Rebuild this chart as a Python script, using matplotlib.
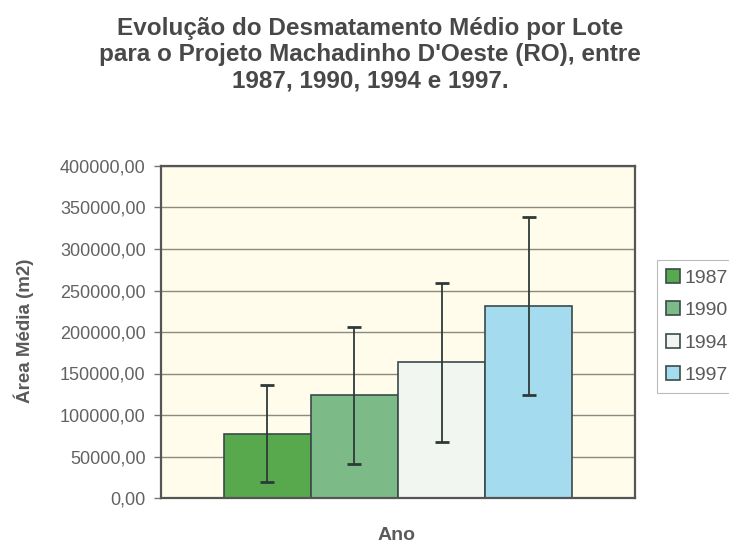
import matplotlib.pyplot as plt
import numpy as np

plt.rcParams["font.family"] = ["Liberation Sans", "DejaVu Sans"]

# data
anos = ["1987", "1990", "1994", "1997"]
area_media = [77500, 124000, 163500, 231000]
desvio = [58500, 82500, 95500, 107500]
cores = ["#58a84e", "#7cba88", "#f1f6f0", "#a4dbef"]
y_ticks = [0, 50000, 100000, 150000, 200000, 250000, 300000, 350000, 400000]

W, H = 729, 545
fig = plt.figure(figsize=(W / 100, H / 100), dpi=100)
fig.patch.set_facecolor("white")

# plot area in pixels: left 161, right 635, top 166, bottom 498
ax = fig.add_axes([161 / W, 1 - 498 / H, (635 - 161) / W, (498 - 166) / H])
ax.set_facecolor("#fffcec")

largura = 0.184
offsets = (np.arange(len(anos)) - 1.5) * largura
for i, ano in enumerate(anos):
    ax.bar(offsets[i], area_media[i], width=largura, color=cores[i],
           edgecolor="#3a4a4a", linewidth=1.2, label=ano, zorder=2)
    ax.errorbar(offsets[i], area_media[i], yerr=desvio[i], fmt="none",
                ecolor="#2e3a38", elinewidth=1.3, capsize=5, capthick=2,
                zorder=3)

ax.set_xlim(-0.5, 0.5)
ax.set_ylim(0, 400000)
ax.set_yticks(y_ticks)
ax.set_yticklabels([f"{v:.2f}".replace(".", ",") for v in y_ticks],
                   fontsize=13, color="#626262")
ax.set_xticks([])
ax.yaxis.grid(True, color="#8a8a80", linewidth=1.0, zorder=0)
ax.set_axisbelow(True)
ax.tick_params(axis="y", length=5, width=1, color="#777777", pad=6)
for s in ax.spines.values():
    s.set_color("#555555")
    s.set_linewidth(1.6)

fig.text(24 / W, 1 - 331 / H, "Área Média (m2)", rotation=90,
         ha="center", va="center", fontsize=13.5, color="#5a5a5a",
         fontweight="bold")
fig.text(397 / W, 1 - 535 / H, "Ano", ha="center", va="center",
         fontsize=14, color="#5a5a5a", fontweight="bold")

titulo = ["Evolução do Desmatamento Médio por Lote",
          "para o Projeto Machadinho D'Oeste (RO), entre",
          "1987, 1990, 1994 e 1997."]
for k, linha in enumerate(titulo):
    fig.text(370 / W, 1 - (28 + 26.5 * k) / H, linha, ha="center",
             va="center", fontsize=17.5, fontweight="bold", color="#484848")

leg = ax.legend(loc="upper left", bbox_to_anchor=(657 / W, 1 - 260 / H),
                bbox_transform=fig.transFigure, fontsize=14,
                frameon=True, fancybox=False, handlelength=0.75,
                handleheight=0.75, handletextpad=0.2, labelspacing=0.75,
                borderpad=0.45, borderaxespad=0, labelcolor="#5a5a5a")
leg.get_frame().set_edgecolor("#aaaaaa")
leg.get_frame().set_linewidth(0.8)
for h in leg.legend_handles:
    h.set_edgecolor("#3a4a4a")

fig.savefig("out.png", dpi=100)
